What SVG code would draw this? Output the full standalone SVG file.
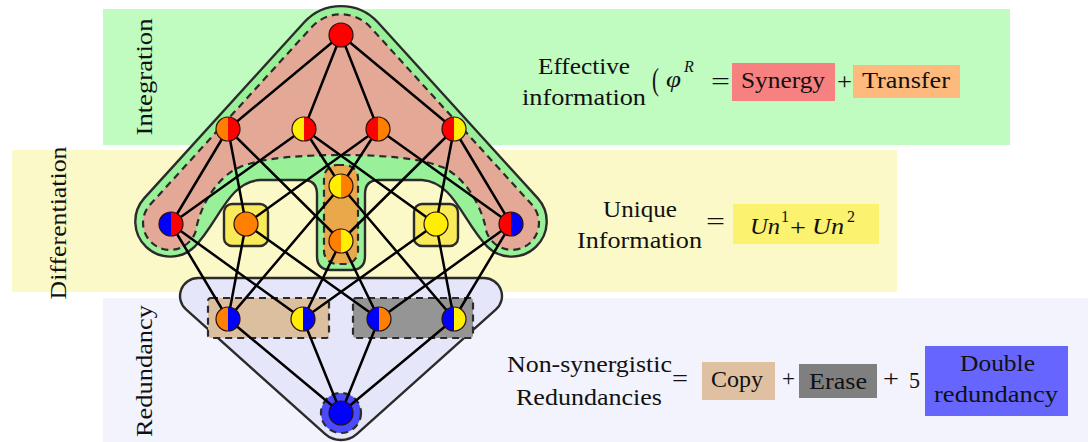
<svg xmlns="http://www.w3.org/2000/svg" xmlns:xlink="http://www.w3.org/1999/xlink" width="1092" height="442" viewBox="0 0 1092 442">
<defs>
<style>
text{font-family:"Liberation Serif","DejaVu Serif",serif;fill:#111;font-size:23px}
.math{font-style:italic}
.sup{font-size:16px}
.paren{font-size:32px}
.band-i{fill:#c0fbc0}
.band-d{fill:#fcf9c8}
.band-r{fill:#f3f3fd}
.solid{stroke:#2b2b2b;stroke-width:2.4;stroke-linejoin:round}
.dashed{stroke:#2b2b2b;stroke-width:2.2;stroke-dasharray:7 5}
.edge{stroke:#000;stroke-width:2.5;stroke-linecap:round}
.r{fill:#ff0000}.o{fill:#ff8000}.y{fill:#ffee00}.b{fill:#0000ff}
.ring{fill:none;stroke:#2a1010;stroke-width:1.2}
</style>
<path id="hl" d="M0,-12A12,12 0 0 0 0,12Z"/>
<path id="hr" d="M0,-12A12,12 0 0 1 0,12Z"/>
</defs>

<!-- horizontal level bands -->
<g id="bands">
<rect class="band-i" x="103" y="9" width="907" height="136"/>
<rect class="band-d" x="12" y="150" width="885" height="142"/>
<rect class="band-r" x="103" y="298" width="985" height="144"/>
</g>

<!-- level labels -->
<g id="level-labels">
<text transform="translate(152,77) rotate(-90)" x="-58.5" y="0" textLength="117" lengthAdjust="spacingAndGlyphs">Integration</text>
<text transform="translate(66,223) rotate(-90)" x="-76.5" y="0" textLength="153" lengthAdjust="spacingAndGlyphs">Differentiation</text>
<text transform="translate(152,371) rotate(-90)" x="-66" y="0" textLength="132" lengthAdjust="spacingAndGlyphs">Redundancy</text>
</g>

<!-- regions behind the lattice -->
<g id="region-integration">
<path class="solid" fill="#98f198" d="M304,22.5 A50,50 0 0 1 378,22.5 L537.9,198.4 A35,35 0 0 1 487.3,246.7 C463,222 454,182 422,180 L379,180 Q365,180 365,194 L365,256 Q365,270 351,270 L331,270 Q317,270 317,256 L317,194 Q317,180 303,180 L260,180 C228,182 219,222 194.7,246.7 A35,35 0 0 1 144.1,198.4 Z"/>
<path class="dashed" fill="#e4a996" d="M311.4,27.4 A40,40 0 0 1 370.6,27.4 L532,204.8 A27,27 0 1 1 486.4,231.6 C482,205 464,176 442,167 C420,158 382,155 341,155 C300,155 262,158 240,167 C218,176 200,205 195.6,231.6 A27,27 0 1 1 150,204.8 Z"/>
</g>

<g id="region-transfer">
<rect class="dashed" fill="#e9a94a" x="324" y="165" width="34" height="99" rx="13"/>
</g>

<g id="region-unique">
<rect class="solid" fill="#f9ea5a" x="224" y="204" width="44" height="42" rx="8"/>
<rect class="solid" fill="#f9ea5a" x="414" y="204" width="44" height="42" rx="8"/>
</g>

<g id="region-redundancy">
<path class="solid" fill="#e6e6fa" d="M198,278 L484,278 A18,18 0 0 1 496,309.4 L357,433.9 A24,24 0 0 1 325,433.9 L186,309.4 A18,18 0 0 1 198,278 Z"/>
<rect class="dashed" fill="#dcbf9f" x="208" y="298" width="121" height="40" rx="3"/>
<rect class="dashed" fill="#959595" x="353" y="298" width="120" height="40" rx="3"/>
<circle class="dashed" fill="#4a4aff" cx="341" cy="413" r="20"/>
</g>

<!-- lattice connectors -->
<g id="connectors" class="edge">
<line x1="341" y1="35" x2="228" y2="129"/>
<line x1="341" y1="35" x2="304" y2="129"/>
<line x1="341" y1="35" x2="378" y2="129"/>
<line x1="341" y1="35" x2="454" y2="129"/>
<line x1="228" y1="129" x2="171" y2="224"/>
<line x1="228" y1="129" x2="246" y2="224"/>
<line x1="228" y1="129" x2="341" y2="241"/>
<line x1="304" y1="129" x2="171" y2="224"/>
<line x1="304" y1="129" x2="341" y2="186"/>
<line x1="304" y1="129" x2="436" y2="224"/>
<line x1="378" y1="129" x2="246" y2="224"/>
<line x1="378" y1="129" x2="341" y2="186"/>
<line x1="378" y1="129" x2="511" y2="224"/>
<line x1="454" y1="129" x2="341" y2="241"/>
<line x1="454" y1="129" x2="436" y2="224"/>
<line x1="454" y1="129" x2="511" y2="224"/>
<line x1="171" y1="224" x2="228" y2="319"/>
<line x1="171" y1="224" x2="303" y2="319"/>
<line x1="246" y1="224" x2="228" y2="319"/>
<line x1="246" y1="224" x2="379" y2="319"/>
<line x1="341" y1="186" x2="228" y2="319"/>
<line x1="341" y1="186" x2="454" y2="319"/>
<line x1="341" y1="241" x2="303" y2="319"/>
<line x1="341" y1="241" x2="379" y2="319"/>
<line x1="436" y1="224" x2="303" y2="319"/>
<line x1="436" y1="224" x2="454" y2="319"/>
<line x1="511" y1="224" x2="379" y2="319"/>
<line x1="511" y1="224" x2="454" y2="319"/>
<line x1="228" y1="319" x2="341" y2="413"/>
<line x1="303" y1="319" x2="341" y2="413"/>
<line x1="379" y1="319" x2="341" y2="413"/>
<line x1="454" y1="319" x2="341" y2="413"/>
</g>

<!-- lattice nodes: left half / right half colours -->
<g id="n-ss" transform="translate(341,35)"><circle r="12" class="r"/><circle r="12" class="ring"/></g>
<g id="n-1s" transform="translate(228,129)"><use xlink:href="#hl" class="o"/><use xlink:href="#hr" class="r"/><circle r="12" class="ring"/></g>
<g id="n-2s" transform="translate(304,129)"><use xlink:href="#hl" class="y"/><use xlink:href="#hr" class="r"/><circle r="12" class="ring"/></g>
<g id="n-s1" transform="translate(378,129)"><use xlink:href="#hl" class="r"/><use xlink:href="#hr" class="o"/><circle r="12" class="ring"/></g>
<g id="n-s2" transform="translate(454,129)"><use xlink:href="#hl" class="r"/><use xlink:href="#hr" class="y"/><circle r="12" class="ring"/></g>
<g id="n-rs" transform="translate(171,224)"><use xlink:href="#hl" class="b"/><use xlink:href="#hr" class="r"/><circle r="12" class="ring"/></g>
<g id="n-11" transform="translate(246,224)"><circle r="12" class="o"/><circle r="12" class="ring"/></g>
<g id="n-21" transform="translate(341,186)"><use xlink:href="#hl" class="y"/><use xlink:href="#hr" class="o"/><circle r="12" class="ring"/></g>
<g id="n-12" transform="translate(341,241)"><use xlink:href="#hl" class="o"/><use xlink:href="#hr" class="y"/><circle r="12" class="ring"/></g>
<g id="n-22" transform="translate(436,224)"><circle r="12" class="y"/><circle r="12" class="ring"/></g>
<g id="n-sr" transform="translate(511,224)"><use xlink:href="#hl" class="r"/><use xlink:href="#hr" class="b"/><circle r="12" class="ring"/></g>
<g id="n-1r" transform="translate(228,319)"><use xlink:href="#hl" class="o"/><use xlink:href="#hr" class="b"/><circle r="12" class="ring"/></g>
<g id="n-2r" transform="translate(303,319)"><use xlink:href="#hl" class="y"/><use xlink:href="#hr" class="b"/><circle r="12" class="ring"/></g>
<g id="n-r1" transform="translate(379,319)"><use xlink:href="#hl" class="b"/><use xlink:href="#hr" class="o"/><circle r="12" class="ring"/></g>
<g id="n-r2" transform="translate(454,319)"><use xlink:href="#hl" class="b"/><use xlink:href="#hr" class="y"/><circle r="12" class="ring"/></g>
<g id="n-rr" transform="translate(341,413)"><circle r="12" class="b"/><circle r="12" class="ring"/></g>

<!-- decomposition equations -->
<g id="eq-integration">
<text x="538" y="74" textLength="92" lengthAdjust="spacingAndGlyphs">Effective</text>
<text x="522" y="105" textLength="124" lengthAdjust="spacingAndGlyphs">information</text>
<text x="652" y="90" class="paren" textLength="7" lengthAdjust="spacingAndGlyphs">(</text>
<text x="666" y="87" class="math" textLength="15" lengthAdjust="spacingAndGlyphs">φ</text>
<text x="684" y="72" class="math sup">R</text>
<text x="711" y="89" textLength="19" lengthAdjust="spacingAndGlyphs">=</text>
<rect x="732" y="63" width="103" height="38" fill="#f78080"/>
<text x="741" y="88" textLength="84" lengthAdjust="spacingAndGlyphs">Synergy</text>
<text x="837" y="89" textLength="15" lengthAdjust="spacingAndGlyphs">+</text>
<rect x="853" y="65" width="107" height="33" fill="#feb97d"/>
<text x="862" y="88" textLength="88" lengthAdjust="spacingAndGlyphs">Transfer</text>
</g>

<g id="eq-differentiation">
<text x="603" y="217" textLength="74" lengthAdjust="spacingAndGlyphs">Unique</text>
<text x="577" y="248" textLength="125" lengthAdjust="spacingAndGlyphs">Information</text>
<text x="706" y="229" textLength="19" lengthAdjust="spacingAndGlyphs">=</text>
<rect x="733" y="204" width="146" height="40" fill="#fbf26f"/>
<text x="750" y="234" class="math" textLength="30" lengthAdjust="spacingAndGlyphs">Un</text>
<text x="781" y="222" class="sup">1</text>
<text x="790" y="235" textLength="16" lengthAdjust="spacingAndGlyphs">+</text>
<text x="812" y="234" class="math" textLength="32" lengthAdjust="spacingAndGlyphs">Un</text>
<text x="847" y="222" class="sup">2</text>
</g>

<g id="eq-redundancy">
<text x="507" y="372" textLength="165" lengthAdjust="spacingAndGlyphs">Non-synergistic</text>
<text x="516" y="405" textLength="146" lengthAdjust="spacingAndGlyphs">Redundancies</text>
<text x="672" y="386" textLength="16" lengthAdjust="spacingAndGlyphs">=</text>
<rect x="702" y="362" width="73" height="38" fill="#dfc0a0"/>
<text x="711" y="387" textLength="52" lengthAdjust="spacingAndGlyphs">Copy</text>
<text x="782" y="386" textLength="13" lengthAdjust="spacingAndGlyphs">+</text>
<rect x="799" y="364" width="78" height="34" fill="#7f7f7f"/>
<text x="809" y="389" textLength="58" lengthAdjust="spacingAndGlyphs">Erase</text>
<text x="883" y="386" textLength="16" lengthAdjust="spacingAndGlyphs">+</text>
<text x="909" y="388" textLength="11" lengthAdjust="spacingAndGlyphs">5</text>
<rect x="925" y="346" width="143" height="70" fill="#6666ff"/>
<text x="960" y="371" textLength="75" lengthAdjust="spacingAndGlyphs">Double</text>
<text x="934" y="402" textLength="124" lengthAdjust="spacingAndGlyphs">redundancy</text>
</g>
</svg>
